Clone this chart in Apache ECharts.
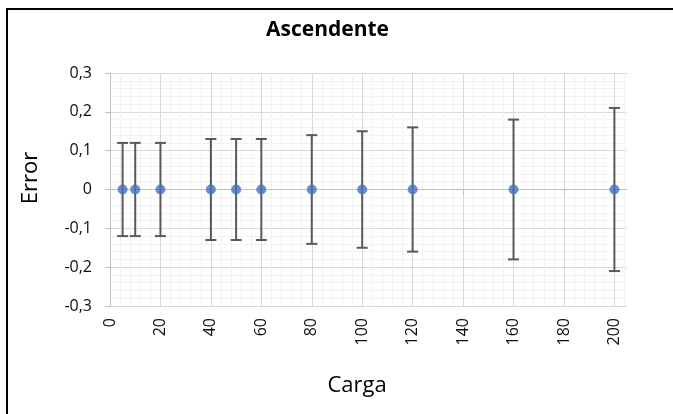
<!DOCTYPE html>
<html><head><meta charset="utf-8">
<script src="https://cdn.jsdelivr.net/npm/echarts@6/dist/echarts.min.js"></script>
<style>html,body{margin:0;padding:0;background:#fff}#c{width:673px;height:414px}</style>
</head><body><div id="c"></div>
<script>
// ---- data ----
const carga = [5, 10, 20, 40, 50, 60, 80, 100, 120, 160, 200];
const errorValue = [0, 0, 0, 0, 0, 0, 0, 0, 0, 0, 0];
const errorBar = [0.12, 0.12, 0.12, 0.13, 0.13, 0.13, 0.14, 0.15, 0.16, 0.18, 0.21];
const xTicks = [0, 20, 40, 60, 80, 100, 120, 140, 160, 180, 200];
const yTicks = [-0.3, -0.2, -0.1, 0, 0.1, 0.2, 0.3];
const titleText = 'Ascendente';
const xName = 'Carga';
const yName = 'Error';

// ---- chart ----
const chart = echarts.init(document.getElementById('c'), null, {renderer: 'canvas'});
const FONT = '"Open Sans", "Liberation Sans", sans-serif';
const majorC = '#d9d9d9', minorC = '#f2f2f2', axisC = '#bfbfbf', labelC = '#0d0d0d';
const xMax = 205;

const points = carga.map((x, i) => [x, errorValue[i], errorBar[i]]);

const option = {
  animation: false,
  backgroundColor: '#ffffff',
  grid: {left: 110, right: 46, top: 73, bottom: 108, containLabel: false},
  xAxis: [
    { // grid lines (major + minor)
      type: 'value', min: 0, max: xMax, interval: 4, position: 'bottom',
      axisLine: {show: false, onZero: false}, axisTick: {show: false}, axisLabel: {show: false},
      splitLine: {show: true, showMaxLine: false,
        lineStyle: {color: [majorC, minorC, minorC, minorC, minorC], width: 1}}
    },
    { // data axis, line on zero
      type: 'value', min: 0, max: xMax, interval: 20, position: 'bottom',
      axisLine: {show: true, onZero: true, lineStyle: {color: axisC, width: 1}},
      axisTick: {show: true, length: 5, customValues: xTicks, lineStyle: {color: axisC}},
      axisLabel: {show: false}, splitLine: {show: false}
    },
    { // labels at bottom
      type: 'value', min: 0, max: xMax, interval: 20, position: 'bottom',
      axisLine: {show: false, onZero: false}, axisTick: {show: false},
      axisLabel: {show: true, rotate: 90, margin: 12, customValues: xTicks,
        fontFamily: FONT, fontSize: 16, color: labelC},
      splitLine: {show: false}
    }
  ],
  yAxis: [{
    type: 'value', min: -0.3, max: 0.3, interval: 0.1,
    axisLine: {show: true, onZero: false, lineStyle: {color: axisC, width: 1}},
    axisTick: {show: true, length: 5, lineStyle: {color: axisC}},
    axisLabel: {margin: 18, fontFamily: FONT, fontSize: 16, color: labelC, customValues: yTicks,
      formatter: v => String(+(+v).toFixed(2)).replace('.', ',')},
    splitLine: {show: true, lineStyle: {color: majorC, width: 1}},
    minorTick: {show: false, splitNumber: 5},
    minorSplitLine: {show: true, lineStyle: {color: minorC, width: 1}}
  }],
  series: [
    {
      type: 'custom', xAxisIndex: 1, yAxisIndex: 0, z: 3,
      data: points,
      encode: {x: 0, y: 1},
      renderItem: function (params, api) {
        const x = api.value(0), y = api.value(1), e = api.value(2);
        const top = api.coord([x, y + e]);
        const bot = api.coord([x, y - e]);
        const hw = 5.5;
        const style = {stroke: '#595959', lineWidth: 2, fill: null};
        return {type: 'group', children: [
          {type: 'line', shape: {x1: top[0], y1: top[1], x2: bot[0], y2: bot[1]}, style: style},
          {type: 'line', shape: {x1: top[0] - hw, y1: top[1], x2: top[0] + hw, y2: top[1]}, style: style},
          {type: 'line', shape: {x1: bot[0] - hw, y1: bot[1], x2: bot[0] + hw, y2: bot[1]}, style: style}
        ]};
      }
    },
    {
      type: 'scatter', xAxisIndex: 1, yAxisIndex: 0, z: 5,
      data: points.map(p => [p[0], p[1]]),
      symbol: 'circle', symbolSize: 10,
      itemStyle: {color: '#4472C4'}
    }
  ],
  graphic: [
    {type: 'rect', shape: {x: 7, y: 9, width: 720, height: 430},
     style: {fill: null, stroke: '#000', lineWidth: 2}, z: 100},
    {type: 'text', x: 327.5, y: 30,
     style: {text: titleText, font: 'bold 21px ' + FONT, fill: '#000', align: 'center', verticalAlign: 'middle'}},
    {type: 'text', x: 357, y: 386,
     style: {text: xName, font: '22px ' + FONT, fill: '#000', align: 'center', verticalAlign: 'middle'}},
    {type: 'text', x: 30.5, y: 178, rotation: Math.PI / 2,
     style: {text: yName, font: '22px ' + FONT, fill: '#000', align: 'center', verticalAlign: 'middle'}}
  ]
};
chart.setOption(option);
</script>
</body></html>
